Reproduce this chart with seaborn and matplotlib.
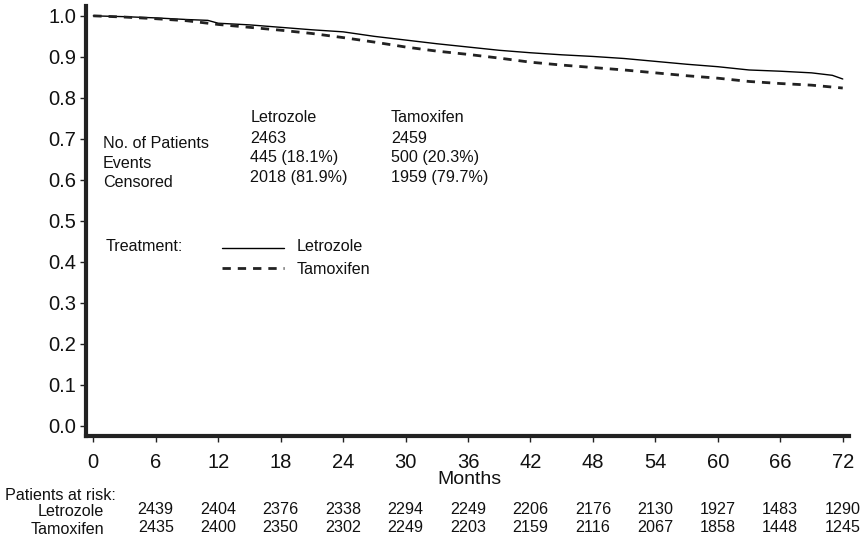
import matplotlib
matplotlib.use("Agg")
import matplotlib.pyplot as plt
import matplotlib.transforms as mtransforms
import seaborn as sns
import pandas as pd

# ---- data ----
months_letrozole = [0, 3, 6, 9, 11, 12, 15, 18, 21, 24, 27, 30, 33, 36, 39, 42, 45,
                    48, 51, 54, 57, 60, 63, 66, 69, 71, 72]
surv_letrozole = [1.000, 0.998, 0.995, 0.991, 0.989, 0.982, 0.978, 0.972, 0.966, 0.961,
                  0.950, 0.941, 0.932, 0.924, 0.916, 0.910, 0.905, 0.901, 0.896, 0.889,
                  0.882, 0.876, 0.868, 0.865, 0.861, 0.855, 0.846]
months_tamoxifen = [0, 3, 6, 9, 12, 15, 18, 21, 24, 27, 30, 33, 36, 39, 42, 45, 48,
                    51, 54, 57, 60, 63, 66, 69, 72]
surv_tamoxifen = [1.000, 0.997, 0.993, 0.988, 0.979, 0.972, 0.965, 0.957, 0.947, 0.936,
                  0.924, 0.914, 0.906, 0.897, 0.887, 0.880, 0.874, 0.868, 0.861, 0.854,
                  0.848, 0.840, 0.835, 0.831, 0.824]

x_ticks = [0, 6, 12, 18, 24, 30, 36, 42, 48, 54, 60, 66, 72]
y_ticks = [0.0, 0.1, 0.2, 0.3, 0.4, 0.5, 0.6, 0.7, 0.8, 0.9, 1.0]
risk_months = [6, 12, 18, 24, 30, 36, 42, 48, 54, 60, 66, 72]
risk_letrozole = [2439, 2404, 2376, 2338, 2294, 2249, 2206, 2176, 2130, 1927, 1483, 1290]
risk_tamoxifen = [2435, 2400, 2350, 2302, 2249, 2203, 2159, 2116, 2067, 1858, 1448, 1245]

summary_rows = ["No. of Patients", "Events", "Censored"]
summary_letrozole = ["2463", "445 (18.1%)", "2018 (81.9%)"]
summary_tamoxifen = ["2459", "500 (20.3%)", "1959 (79.7%)"]

# ---- style ----
sns.set_style("white")
plt.rcParams['font.family'] = ['Liberation Sans', 'DejaVu Sans']
plt.rcParams['text.color'] = '#111111'

fig = plt.figure(figsize=(8.67, 5.4), dpi=100)
ax = fig.add_axes([86 / 867, 1 - 436 / 540, (849 - 86) / 867, (436 - 6) / 540])

df_l = pd.DataFrame({"Months": months_letrozole, "Survival": surv_letrozole})
df_t = pd.DataFrame({"Months": months_tamoxifen, "Survival": surv_tamoxifen})
sns.lineplot(data=df_l, x="Months", y="Survival", ax=ax, color="black", lw=1.0)
sns.lineplot(data=df_t, x="Months", y="Survival", ax=ax, color="#222222", lw=2.0,
             linestyle=(0, (3, 2.5)))

ax.set_xlim(-0.7, 72.6)
ax.set_ylim(-0.0244, 1.024)
ax.set_xticks(x_ticks)
ax.set_yticks(y_ticks)
ax.set_yticklabels([f"{v:.1f}" for v in y_ticks])
ax.tick_params(axis="both", direction="out", length=4, width=1, color="#222222",
               labelsize=14.5, labelcolor="#111111", pad=3, bottom=True, left=True)
ax.tick_params(axis="x", pad=8)
ax.set_xlabel("")
ax.set_ylabel("")
for s in ["top", "right"]:
    ax.spines[s].set_visible(False)
for s in ["left", "bottom"]:
    ax.spines[s].set_linewidth(3)
    ax.spines[s].set_color("#222222")

def fy(py):
    return 1 - py / 540

fig.text(469.7 / 867, fy(480), "Months", fontsize=14, va="center", ha="center")

# ---- summary text ----
fs = 11.6
row_y = [0.688, 0.641, 0.593]
col_y = [0.702, 0.654, 0.605]
for lab, y in zip(summary_rows, row_y):
    ax.text(0.9, y, lab, fontsize=fs, va="center", ha="left")
ax.text(15.1, 0.751, "Letrozole", fontsize=fs, va="center", ha="left")
ax.text(28.6, 0.751, "Tamoxifen", fontsize=fs, va="center", ha="left")
for v, y in zip(summary_letrozole, col_y):
    ax.text(15.1, y, v, fontsize=fs, va="center", ha="left")
for v, y in zip(summary_tamoxifen, col_y):
    ax.text(28.6, y, v, fontsize=fs, va="center", ha="left")

# legend
ax.text(1.2, 0.437, "Treatment:", fontsize=fs, va="center", ha="left")
ax.plot([12.4, 18.3], [0.435, 0.435], color="black", lw=1.0)
ax.plot([12.4, 18.3], [0.386, 0.386], color="#222222", lw=2.0, linestyle=(0, (3, 2.5)))
ax.text(19.5, 0.437, "Letrozole", fontsize=fs, va="center", ha="left")
ax.text(19.5, 0.381, "Tamoxifen", fontsize=fs, va="center", ha="left")

# ---- risk table ----
trans = mtransforms.blended_transform_factory(ax.transData, fig.transFigure)
fig.text(5 / 867, fy(495), "Patients at risk:", fontsize=fs, va="center", ha="left")
fig.text(104 / 867, fy(511.5), "Letrozole", fontsize=fs, va="center", ha="right")
fig.text(104 / 867, fy(529), "Tamoxifen", fontsize=fs, va="center", ha="right")
for m, a, b in zip(risk_months, risk_letrozole, risk_tamoxifen):
    ax.text(m, fy(509.5), str(a), fontsize=fs, va="center", ha="center", transform=trans)
    ax.text(m, fy(528), str(b), fontsize=fs, va="center", ha="center", transform=trans)

fig.savefig("out.png", dpi=100)
